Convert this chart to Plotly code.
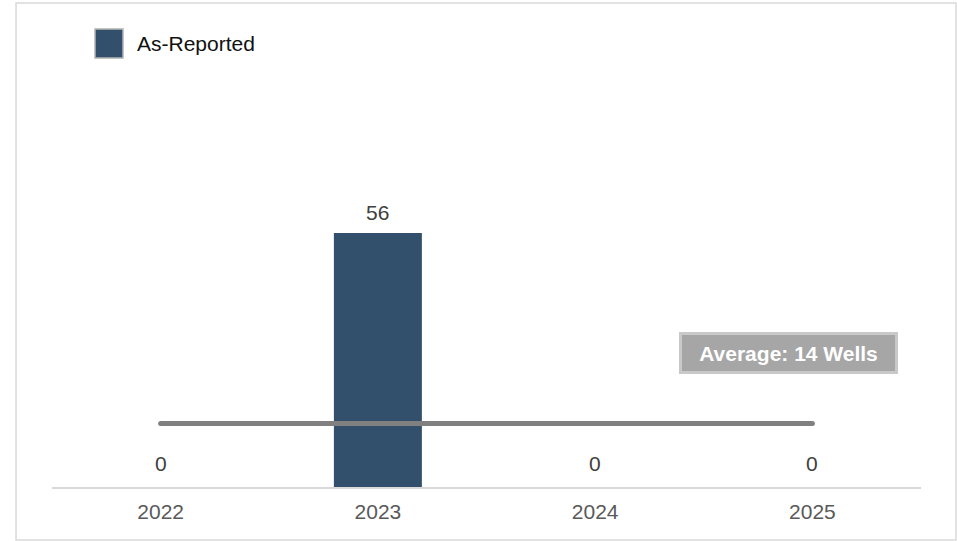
import plotly.graph_objects as go

years = ["2022", "2023", "2024", "2025"]
wells = [0, 56, 0, 0]
average = 14

BAR_COLOR = "#324f6b"
FONT = "Arial, Liberation Sans, sans-serif"

fig = go.Figure()
fig.add_trace(go.Bar(x=years, y=wells, marker=dict(color=BAR_COLOR, line=dict(width=0)),
                     name="As-Reported", showlegend=False))
# average line; markers give it rounded ends
fig.add_trace(go.Scatter(x=years, y=[average] * len(years), mode="lines+markers",
                         line=dict(color="#808080", width=5), marker=dict(size=5, color="#808080"),
                         showlegend=False, hoverinfo="skip"))

# value labels above each bar (x as category index, numeric-looking names confuse annotations)
for i, v in enumerate(wells):
    fig.add_annotation(x=i, y=v, text=str(v), showarrow=False, yanchor="middle",
                       yshift=20 if v > 0 else 24, font=dict(family=FONT, size=21, color="#404040"))

# average badge
fig.add_annotation(xref="paper", yref="paper", x=0.847, y=0.293, xanchor="center", yanchor="middle",
                   text=f"<b>Average: {average} Wells</b>",
                   showarrow=False, bgcolor="#a6a6a6", bordercolor="#c9c9c9", borderwidth=3,
                   borderpad=4, width=205, height=28, font=dict(family=FONT, size=21, color="white"))

# legend drawn by hand (large swatch)
fig.add_shape(type="rect", xref="paper", yref="paper", x0=0.0495, x1=0.0817, y0=0.9387, y1=1.002,
              fillcolor=BAR_COLOR, line=dict(color="#b3b3b3", width=1.5))
fig.add_annotation(xref="paper", yref="paper", x=0.0955, y=0.9705, text="As-Reported", showarrow=False,
                   xanchor="left", yanchor="middle", font=dict(family=FONT, size=21, color="#111111"))

# outer frame
fig.add_shape(type="rect", xref="paper", yref="paper", x0=-0.0414, x1=1.0403, y0=-0.116, y1=1.059,
              line=dict(color="#d9d9d9", width=1.5), layer="below")

fig.update_layout(
    width=957, height=541,
    margin=dict(l=52, r=36, t=30, b=54),
    paper_bgcolor="white", plot_bgcolor="white",
    bargap=0.595,
    font=dict(family=FONT, size=21, color="#595959"),
    xaxis=dict(type="category", range=[-0.5, 3.5], showline=True, linecolor="#d9d9d9", linewidth=1.5,
               showgrid=False, ticks="", ticklabelstandoff=5, tickfont=dict(size=21, color="#595959")),
    yaxis=dict(range=[0, 100.75], visible=False, showgrid=False),
)

fig.write_html("out.html", config={"displayModeBar": False},
               post_script="document.body.style.margin='0';document.body.style.overflow='hidden';")
